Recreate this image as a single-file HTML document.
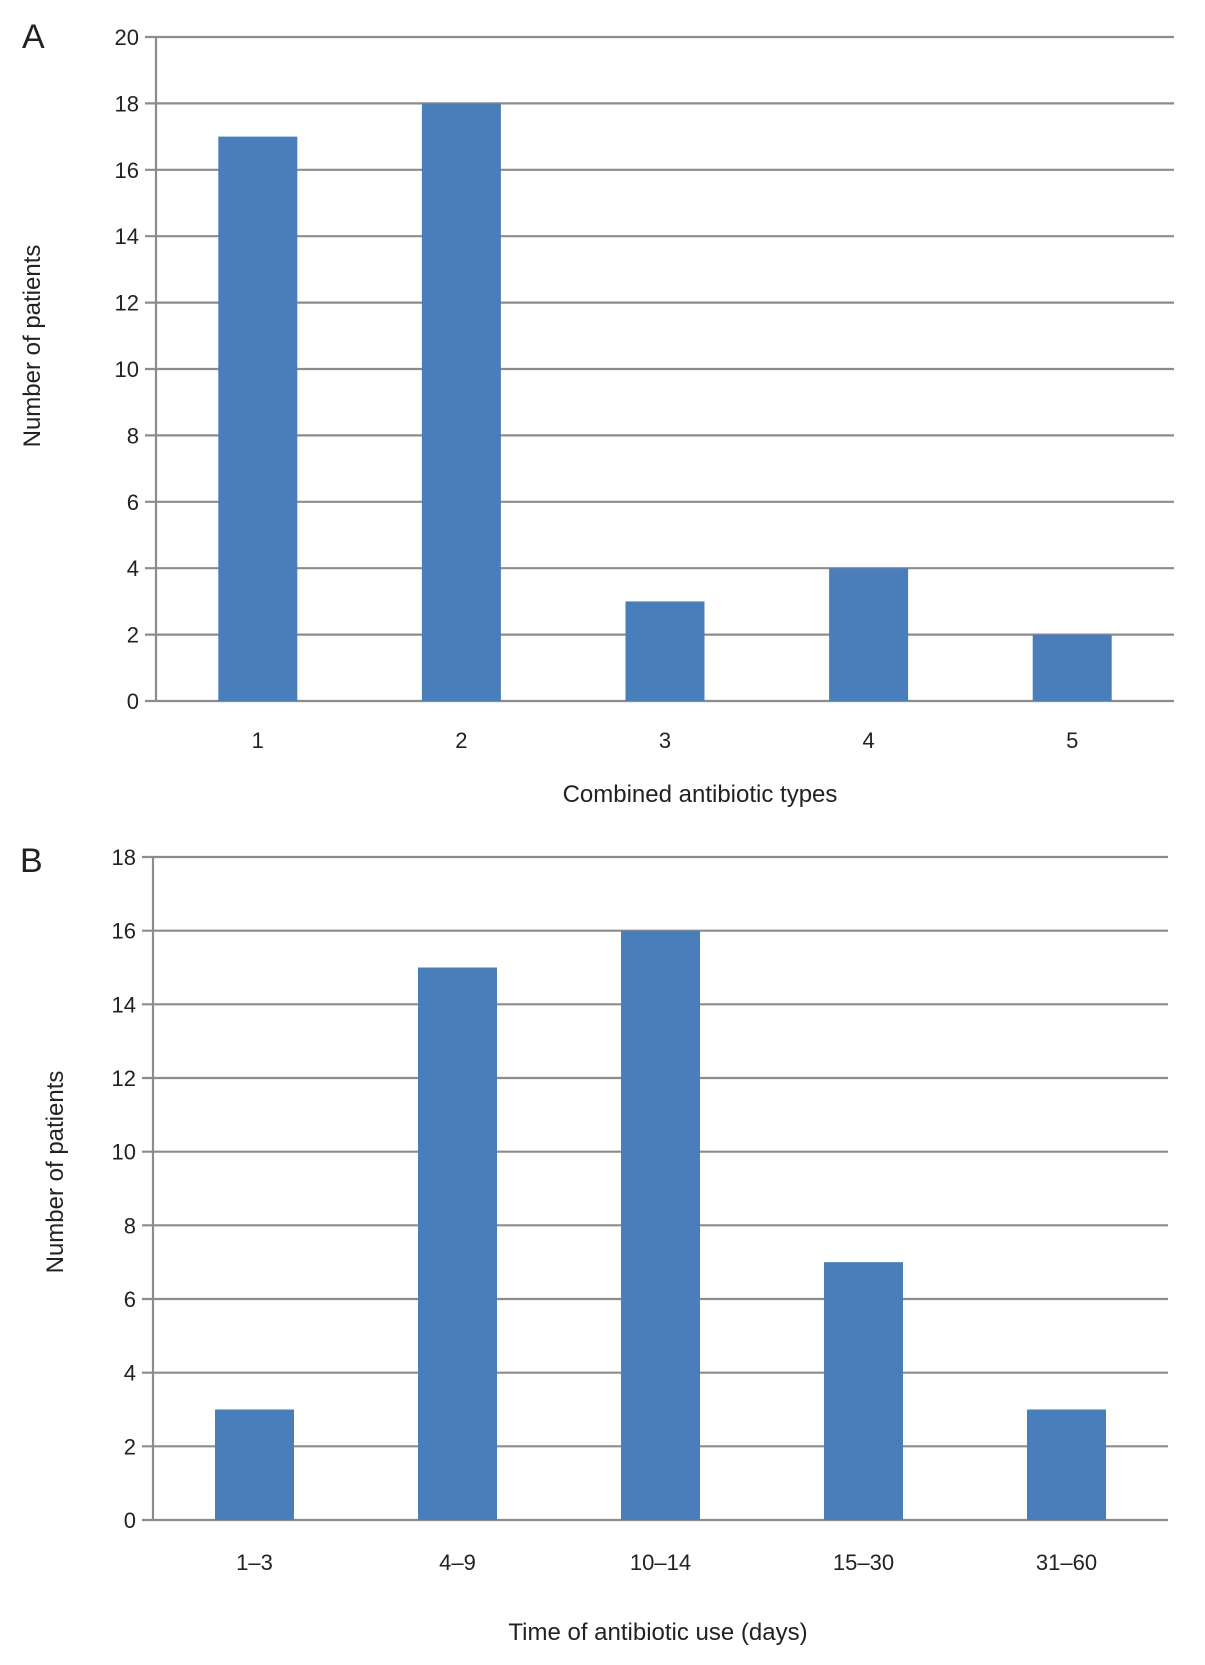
<!DOCTYPE html>
<html><head><meta charset="utf-8"><style>
html,body{margin:0;padding:0;background:#fff}
svg{display:block}
text{font-family:"Liberation Sans",Arial,sans-serif;fill:#222}
</style></head><body>
<svg id="fig" width="1205" height="1665" viewBox="0 0 1205 1665">
<text x="22" y="48" font-size="34">A</text>
<text x="20" y="872" font-size="34">B</text>
<g id="chartA"></g>
<g id="chartB"></g>
</svg>
<script>
const catsA = ["1","2","3","4","5"];
const valsA = [17,18,3,4,2];
const ticksA = [0,2,4,6,8,10,12,14,16,18,20];
const catsB = ["1–3","4–9","10–14","15–30","31–60"];
const valsB = [3,15,16,7,3];
const ticksB = [0,2,4,6,8,10,12,14,16,18];
const NS="http://www.w3.org/2000/svg";
function mk(parent,tag,attrs){const e=document.createElementNS(NS,tag);for(const k in attrs)e.setAttribute(k,attrs[k]);parent.appendChild(e);return e;}
function draw(g,cats,vals,ticks,cfg,prefix){
  const ymax=ticks[ticks.length-1];
  const y=v=>cfg.y0-(cfg.y0-cfg.yTop)*v/ymax;
  const slot=(cfg.x1-cfg.x0)/cats.length;
  const xc=i=>cfg.x0+slot*(i+0.5);
  ticks.forEach(t=>{
    const l=mk(g,'line',{x1:cfg.x0-11,x2:cfg.x1,y1:y(t),y2:y(t),stroke:'#8c8c8c','stroke-width':2.2});
    
    
    const tx=mk(g,'text',{x:cfg.x0-17,y:y(t)+8,'font-size':22,'text-anchor':'end'});
    tx.textContent=t;
    
    
  });
  vals.forEach((v,i)=>{
    const bw=79;
    const r=mk(g,'rect',{x:xc(i)-bw/2,y:y(v),width:bw,height:cfg.y0-y(v),fill:'#4a7ebb'});
    
    
    const tx=mk(g,'text',{x:xc(i),y:cfg.labY,'font-size':22,'text-anchor':'middle'});
    tx.textContent=cats[i];
    
    
  });
  const ax=mk(g,'line',{x1:cfg.x0,x2:cfg.x0,y1:cfg.yTop,y2:cfg.y0,stroke:'#8c8c8c','stroke-width':2.2});
  
  
  const xt=mk(g,'text',{x:cfg.titleX,y:cfg.titleY,'font-size':24,'text-anchor':'middle'});
  xt.textContent=cfg.xTitle;
  
  
  const yt=mk(g,'text',{x:0,y:0,'font-size':24,'text-anchor':'middle',transform:`translate(${cfg.yTitleX},${cfg.yTitleY}) rotate(-90)`});
  yt.textContent='Number of patients';
  
  
}
draw(document.getElementById('chartA'),catsA,valsA,ticksA,
 {x0:156,x1:1174,yTop:37,y0:701,labY:748,xTitle:'Combined antibiotic types',titleX:700,titleY:802,yTitleX:40,yTitleY:346},'a');
draw(document.getElementById('chartB'),catsB,valsB,ticksB,
 {x0:153,x1:1168,yTop:857,y0:1520,labY:1570,xTitle:'Time of antibiotic use (days)',titleX:658,titleY:1640,yTitleX:63,yTitleY:1172},'b');
</script>
</body></html>
